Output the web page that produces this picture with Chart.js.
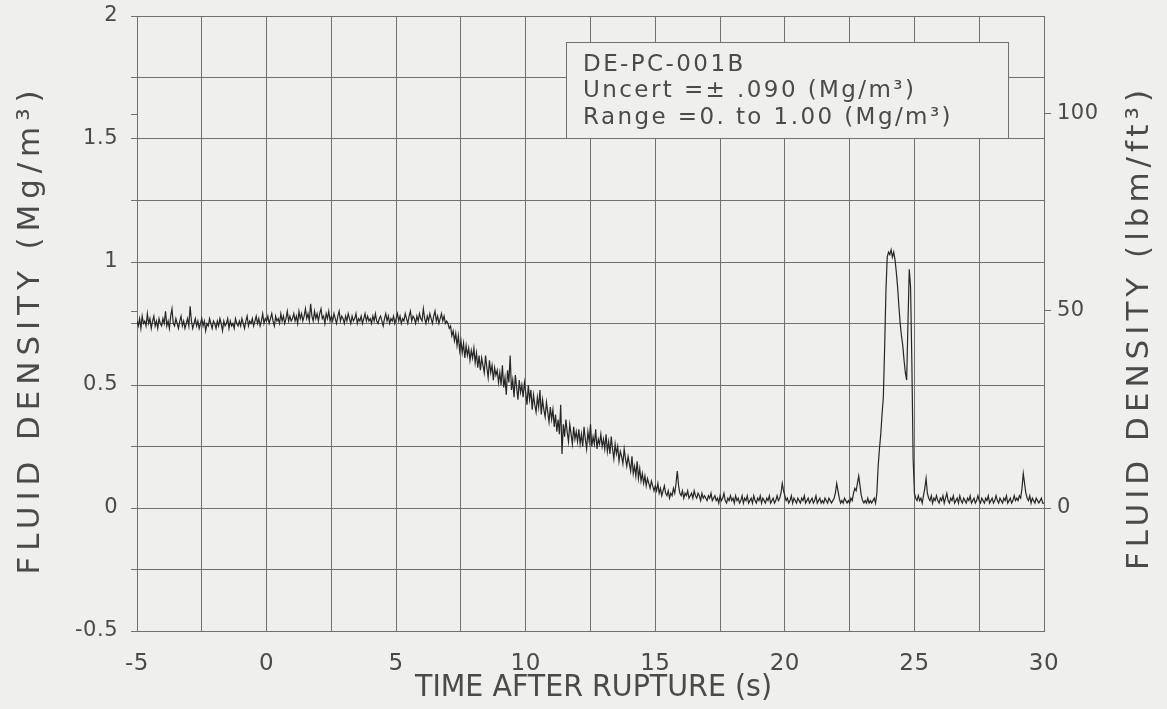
<!DOCTYPE html>
<html>
<head>
<meta charset="utf-8">
<script src="https://cdn.jsdelivr.net/npm/chart.js@4/dist/chart.umd.min.js"></script>
<style>
  html, body { margin: 0; padding: 0; background: #efefed; }
  #wrap { width: 1167px; height: 709px; }
</style>
</head>
<body>
<div id="wrap"><canvas id="c" width="1167" height="709"></canvas></div>
<script>
// ---- data ----
const sampleStart = -5;      // s
const sampleStep = 0.05;     // s
// fluid density, Mg/m3, 20 values per second from -5 s to 30 s (one row = one second)
const fluidDensity = [
  0.76,0.74,0.77,0.73,0.78,0.75,0.76,0.74,0.79,0.75,0.77,0.73,0.76,0.78,0.74,0.76,0.73,0.77,0.75,0.74,
  0.77,0.75,0.80,0.74,0.76,0.73,0.78,0.81,0.75,0.74,0.77,0.75,0.73,0.76,0.78,0.74,0.76,0.73,0.75,0.77,
  0.74,0.82,0.76,0.73,0.75,0.77,0.74,0.76,0.73,0.75,0.77,0.74,0.76,0.72,0.75,0.74,0.77,0.75,0.73,0.76,
  0.75,0.73,0.76,0.74,0.77,0.75,0.72,0.76,0.74,0.75,0.77,0.73,0.76,0.74,0.75,0.73,0.77,0.75,0.74,0.76,
  0.74,0.77,0.75,0.73,0.76,0.78,0.74,0.76,0.75,0.77,0.74,0.76,0.78,0.75,0.77,0.74,0.76,0.79,0.75,0.77,
  0.76,0.78,0.75,0.77,0.79,0.76,0.74,0.78,0.76,0.77,0.75,0.79,0.76,0.78,0.75,0.77,0.80,0.76,0.78,0.76,
  0.77,0.79,0.76,0.78,0.75,0.80,0.77,0.79,0.76,0.78,0.81,0.77,0.79,0.76,0.83,0.78,0.76,0.80,0.77,0.79,
  0.76,0.79,0.81,0.77,0.78,0.75,0.79,0.77,0.80,0.76,0.78,0.76,0.79,0.77,0.75,0.78,0.80,0.76,0.78,0.77,
  0.75,0.78,0.76,0.79,0.77,0.75,0.78,0.76,0.77,0.79,0.75,0.77,0.76,0.78,0.75,0.77,0.79,0.76,0.78,0.76,
  0.77,0.75,0.78,0.76,0.79,0.76,0.75,0.77,0.78,0.76,0.74,0.77,0.79,0.76,0.78,0.75,0.77,0.76,0.78,0.75,
  0.77,0.79,0.76,0.78,0.75,0.77,0.76,0.79,0.77,0.75,0.78,0.80,0.76,0.78,0.77,0.75,0.78,0.76,0.79,0.77,
  0.76,0.81,0.77,0.75,0.78,0.76,0.79,0.77,0.75,0.78,0.80,0.76,0.78,0.75,0.77,0.79,0.76,0.78,0.75,0.76,
  0.75,0.73,0.74,0.70,0.72,0.68,0.71,0.66,0.70,0.64,0.68,0.63,0.67,0.61,0.66,0.62,0.65,0.60,0.64,0.61,
  0.65,0.59,0.63,0.57,0.62,0.56,0.61,0.58,0.55,0.62,0.57,0.53,0.60,0.55,0.58,0.52,0.57,0.54,0.56,0.51,
  0.55,0.50,0.58,0.49,0.53,0.46,0.56,0.51,0.62,0.48,0.52,0.45,0.54,0.49,0.44,0.52,0.47,0.50,0.45,0.51,
  0.47,0.42,0.50,0.44,0.48,0.40,0.46,0.42,0.39,0.45,0.41,0.48,0.38,0.44,0.40,0.37,0.43,0.39,0.35,0.41,
  0.36,0.40,0.33,0.38,0.31,0.36,0.30,0.42,0.22,0.34,0.29,0.36,0.31,0.27,0.34,0.30,0.26,0.33,0.28,0.31,
  0.27,0.32,0.26,0.30,0.25,0.33,0.28,0.24,0.31,0.27,0.34,0.25,0.29,0.26,0.32,0.24,0.28,0.26,0.30,0.25,
  0.28,0.24,0.30,0.23,0.27,0.22,0.29,0.24,0.20,0.26,0.22,0.25,0.19,0.23,0.21,0.18,0.24,0.20,0.17,0.21,
  0.18,0.15,0.21,0.14,0.17,0.13,0.19,0.12,0.16,0.11,0.14,0.10,0.13,0.09,0.12,0.10,0.08,0.11,0.09,0.07,
  0.09,0.07,0.10,0.06,0.08,0.05,0.07,0.09,0.06,0.05,0.07,0.04,0.06,0.05,0.08,0.06,0.10,0.15,0.09,0.06,
  0.05,0.07,0.04,0.06,0.05,0.07,0.04,0.05,0.06,0.04,0.07,0.05,0.04,0.06,0.05,0.03,0.06,0.04,0.05,0.04,
  0.03,0.05,0.04,0.06,0.03,0.04,0.05,0.03,0.04,0.02,0.05,0.03,0.04,0.06,0.03,0.02,0.04,0.03,0.05,0.03,
  0.04,0.02,0.05,0.03,0.04,0.02,0.03,0.05,0.02,0.04,0.03,0.05,0.02,0.03,0.04,0.02,0.05,0.03,0.02,0.04,
  0.03,0.05,0.02,0.04,0.03,0.02,0.04,0.03,0.05,0.02,0.03,0.04,0.02,0.03,0.05,0.03,0.04,0.06,0.10,0.07,
  0.05,0.03,0.04,0.02,0.03,0.05,0.02,0.04,0.03,0.02,0.04,0.03,0.02,0.04,0.03,0.05,0.02,0.03,0.04,0.02,
  0.03,0.04,0.02,0.03,0.05,0.02,0.03,0.04,0.02,0.03,0.02,0.04,0.03,0.02,0.04,0.03,0.02,0.03,0.04,0.06,
  0.10,0.07,0.04,0.02,0.03,0.02,0.04,0.03,0.02,0.03,0.02,0.04,0.03,0.06,0.08,0.07,0.10,0.13,0.09,0.05,
  0.03,0.02,0.03,0.02,0.04,0.02,0.03,0.02,0.03,0.04,0.02,0.06,0.17,0.24,0.30,0.38,0.45,0.65,0.88,1.02,
  1.04,1.03,1.05,1.02,1.04,1.01,0.96,0.90,0.82,0.75,0.70,0.66,0.60,0.55,0.52,0.75,0.97,0.90,0.60,0.20,
  0.06,0.04,0.03,0.05,0.03,0.04,0.02,0.05,0.08,0.12,0.06,0.04,0.03,0.05,0.02,0.04,0.03,0.05,0.03,0.02,
  0.04,0.03,0.05,0.02,0.04,0.06,0.03,0.02,0.04,0.03,0.05,0.02,0.03,0.04,0.02,0.05,0.03,0.02,0.04,0.03,
  0.02,0.04,0.03,0.05,0.02,0.03,0.04,0.02,0.03,0.05,0.03,0.02,0.04,0.03,0.02,0.04,0.03,0.05,0.02,0.03,
  0.04,0.02,0.03,0.05,0.03,0.02,0.04,0.03,0.02,0.04,0.03,0.05,0.02,0.03,0.04,0.02,0.03,0.05,0.03,0.04,
  0.03,0.05,0.04,0.08,0.14,0.10,0.06,0.04,0.03,0.05,0.02,0.04,0.03,0.02,0.04,0.03,0.02,0.03,0.04,0.02,
  0.02
];
const xTickLabels = ['-5','0','5','10','15','20','25','30'];
const yTickLabels = ['-0.5','0','0.5','1','1.5','2'];
const y2TickValues = [0, 50, 100];          // lbm/ft3
const lbmPerMg = 62.428;                     // unit conversion for right axis
const legendLines = ['DE-PC-001B', 'Uncert =\u00b1 .090 (Mg/m\u00b3)', 'Range =0. to 1.00 (Mg/m\u00b3)'];
const xTitle = 'TIME AFTER RUPTURE (s)';
const yTitle = 'FLUID DENSITY (Mg/m\u00b3)';
const y2Title = 'FLUID DENSITY (lbm/ft\u00b3)';

// ---- build points ----
const points = fluidDensity.map((v, i) => ({ x: +(sampleStart + i * sampleStep).toFixed(3), y: v }));

const INK = '#4a4a4a';
const GRID = '#707070';
const BG = '#efefed';
const FONT = "'DejaVu Sans', sans-serif";

// draw text centred at (0,0) of current transform, stretched/condensed to a target width
function fitText(ctx, text, size, target) {
  ctx.font = size + 'px ' + FONT;
  ctx.letterSpacing = '0px';
  const nat = ctx.measureText(text).width;
  let sx = 1;
  if (nat > target) { sx = target / nat; }
  else { ctx.letterSpacing = ((target - nat) / text.length).toFixed(2) + 'px'; }
  ctx.save();
  ctx.scale(sx, 1);
  ctx.textAlign = 'center';
  ctx.textBaseline = 'middle';
  ctx.fillText(text, 0, 0);
  ctx.restore();
}

const spacingPlugin = {
  id: 'spacing',
  beforeLayout(c) { c.ctx.letterSpacing = '0.5px'; },
  beforeDraw(c) { c.ctx.letterSpacing = '0.5px'; }
};

const overlayPlugin = {
  id: 'overlay',
  afterDraw(c) {
    const ctx = c.ctx, a = c.chartArea;
    const y2 = c.scales.y2;
    ctx.save();
    // small lbm/ft3 ticks on the left frame too
    ctx.strokeStyle = GRID; ctx.lineWidth = 1;
    y2TickValues.slice(1).forEach(v => {
      const py = Math.round(y2.getPixelForValue(v)) + 0.5;
      ctx.beginPath(); ctx.moveTo(a.left - 6, py); ctx.lineTo(a.left, py); ctx.stroke();
    });
    // legend box
    const bx = a.left + 429, by = a.top + 26, bw = 442, bh = 96;
    ctx.fillStyle = BG;
    ctx.fillRect(bx, by, bw, bh);
    ctx.strokeRect(bx + 0.5, by + 0.5, bw, bh);
    ctx.fillStyle = INK;
    ctx.font = '23px ' + FONT;
    ctx.letterSpacing = '0px';
    const natL = ctx.measureText(legendLines[2]).width;
    ctx.letterSpacing = Math.max(0, (370 - natL) / legendLines[2].length).toFixed(2) + 'px';
    ctx.textBaseline = 'middle';
    ctx.textAlign = 'left';
    legendLines.forEach((t, i) => ctx.fillText(t, bx + 17, by + 23 + i * 26.5));
    ctx.restore();

    ctx.fillStyle = INK;
    // x title
    ctx.save();
    ctx.translate((a.left + a.right) / 2 + 3, 688);
    fitText(ctx, xTitle, 30, 357);
    ctx.restore();
    // left title
    ctx.save();
    ctx.translate(31, (a.top + a.bottom) / 2 + 6);
    ctx.rotate(-Math.PI / 2);
    fitText(ctx, yTitle, 31, 490);
    ctx.restore();
    // right title (reads bottom-to-top)
    ctx.save();
    ctx.translate(1140, (a.top + a.bottom) / 2 + 4);
    ctx.rotate(-Math.PI / 2);
    fitText(ctx, y2Title, 31, 485);
    ctx.restore();
  }
};

new Chart(document.getElementById('c'), {
  type: 'line',
  data: {
    datasets: [{
      data: points,
      borderColor: '#262626',
      borderWidth: 1.2,
      pointRadius: 0,
      tension: 0,
      yAxisID: 'y'
    }]
  },
  options: {
    responsive: false,
    animation: false,
    parsing: false,
    layout: { padding: { top: 16, left: 0, right: 0, bottom: 0 } },
    plugins: { legend: { display: false }, tooltip: { enabled: false } },
    scales: {
      x: {
        type: 'linear', min: -5, max: 30,
        afterBuildTicks(s) { s.ticks = []; for (let i = 0; i <= 14; i++) s.ticks.push({ value: -5 + i * 2.5 }); },
        afterFit(s) { s.height = 78; s.paddingLeft = 0; s.paddingRight = 0; },
        grid: { color: GRID, lineWidth: 1, drawTicks: false },
        border: { color: GRID },
        ticks: {
          color: INK, font: { family: FONT, size: 23 }, padding: 19, maxRotation: 0, autoSkip: false,
          callback(v) { const i = xTickLabels.indexOf(String(v)); return i >= 0 ? xTickLabels[i] : ''; }
        }
      },
      y: {
        type: 'linear', position: 'left', min: -0.5, max: 2,
        afterBuildTicks(s) { s.ticks = []; for (let i = 0; i <= 10; i++) s.ticks.push({ value: -0.5 + i * 0.25 }); },
        afterFit(s) { s.width = 137; s.paddingTop = 0; s.paddingBottom = 0; },
        grid: { color: GRID, lineWidth: 1, tickLength: 6 },
        border: { color: GRID },
        ticks: {
          color: INK, font: { family: FONT, size: 21 }, padding: 13, autoSkip: false,
          callback(v) { const i = yTickLabels.indexOf(String(v)); return i >= 0 ? yTickLabels[i] : ''; }
        }
      },
      y2: {
        type: 'linear', position: 'right', min: -0.5 * lbmPerMg, max: 2 * lbmPerMg,
        afterBuildTicks(s) { s.ticks = y2TickValues.map(v => ({ value: v })); },
        afterFit(s) { s.width = 123; s.paddingTop = 0; s.paddingBottom = 0; },
        grid: { drawOnChartArea: false, color: GRID, tickLength: 7 },
        border: { display: false },
        ticks: { color: INK, font: { family: FONT, size: 21 }, padding: 6, autoSkip: false, callback(v) { return String(v); } }
      }
    }
  },
  plugins: [spacingPlugin, overlayPlugin]
});
</script>
</body>
</html>
